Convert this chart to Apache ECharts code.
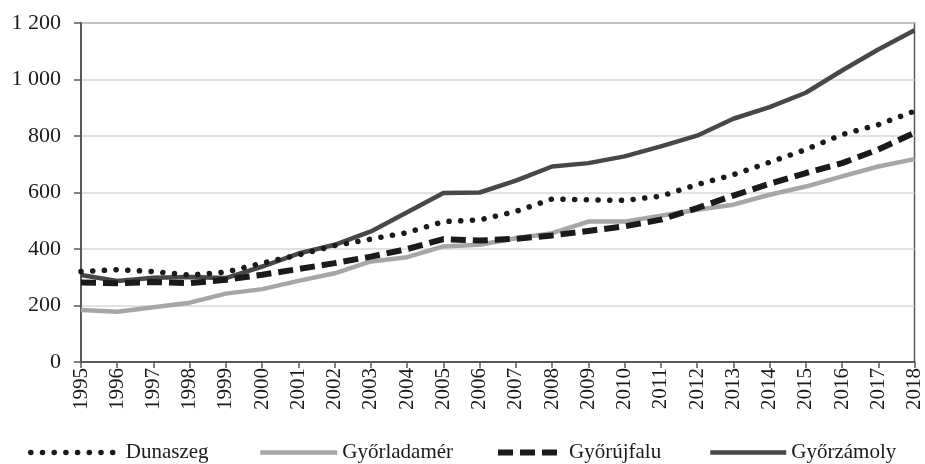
<!DOCTYPE html>
<html>
<head>
<meta charset="utf-8">
<script src="https://cdn.jsdelivr.net/npm/echarts@6/dist/echarts.min.js"></script>
<style>
  html, body { margin: 0; padding: 0; background: #fff; }
  #chart { width: 925px; height: 464px; }
</style>
</head>
<body>
<div id="chart"></div>
<script>
// évek
const years = ["1995","1996","1997","1998","1999","2000","2001","2002","2003","2004","2005","2006",
  "2007","2008","2009","2010","2011","2012","2013","2014","2015","2016","2017","2018"];

// települések adatai
const dunaszeg = [320,327,320,308,318,350,379,412,435,458,497,503,533,577,574,572,587,628,663,707,752,805,840,888];
const gyorladamer = [184,178,194,210,242,258,287,314,356,371,409,415,438,456,497,497,518,539,557,592,621,657,692,718];
const gyorujfalu = [281,279,283,279,291,309,329,350,373,400,435,430,436,448,464,480,504,545,589,631,669,704,752,811];
const gyorzamoly = [308,287,298,301,297,338,384,415,462,530,598,600,642,692,704,728,763,801,861,902,953,1032,1106,1174];

const names = ["Dunaszeg", "Győrladamér", "Győrújfalu", "Győrzámoly"];
const font = "Liberation Serif";

// vonalstílusok (sorozat és jelmagyarázat közös)
const styles = {
  "Dunaszeg": { color: "#1a1a1a", width: 5.5, type: [0.1, 11.6], cap: "round" },
  "Győrladamér": { color: "#a6a6a6", width: 4.5, type: "solid" },
  "Győrújfalu": { color: "#1a1a1a", width: 6, type: [15, 7] },
  "Győrzámoly": { color: "#474747", width: 4.5, type: "solid" }
};

const chart = echarts.init(document.getElementById("chart"));

// egy jelmagyarázat-elem sorozatonként, hogy pontosan lehessen igazítani
const legendLeft = [28, 258, 495, 708];
const legendWidth = [90, 77, 66, 76];
const legends = names.map((n, i) => ({
  data: [n],
  left: legendLeft[i],
  top: 442,
  padding: 0,
  itemWidth: legendWidth[i],
  itemHeight: 20,
  itemGap: 0,
  selectedMode: false,
  itemStyle: { opacity: 0 },
  lineStyle: Object.assign({}, styles[n]),
  textStyle: { fontFamily: font, fontSize: 21, color: "#1a1a1a" }
}));

const option = {
  animation: false,
  grid: {
    left: 81, right: 7, top: 23, bottom: 102,
    show: true, borderColor: "#595959", borderWidth: 1.5
  },
  legend: legends,
  xAxis: {
    type: "category",
    data: years,
    boundaryGap: false,
    axisLine: { lineStyle: { color: "#595959", width: 2 } },
    axisTick: { alignWithLabel: true, length: 6, lineStyle: { color: "#595959", width: 1.5 } },
    axisLabel: { rotate: 90, interval: 0, fontFamily: font, fontSize: 21, color: "#1a1a1a", margin: 6 }
  },
  yAxis: {
    type: "value",
    min: 0, max: 1200, interval: 200,
    axisLine: { show: true, lineStyle: { color: "#595959", width: 2 } },
    axisTick: { show: true, length: 7, lineStyle: { color: "#595959", width: 1.5 } },
    splitLine: { lineStyle: { color: "#d9d9d9", width: 1.5 } },
    axisLabel: {
      fontFamily: font, fontSize: 22, color: "#1a1a1a", margin: 20,
      formatter: v => String(v).replace(/\B(?=(\d{3})+(?!\d))/g, " ")
    }
  },
  series: [
    { name: names[1], type: "line", data: gyorladamer, symbol: "none",
      lineStyle: styles[names[1]], itemStyle: { color: styles[names[1]].color } },
    { name: names[3], type: "line", data: gyorzamoly, symbol: "none",
      lineStyle: styles[names[3]], itemStyle: { color: styles[names[3]].color } },
    { name: names[2], type: "line", data: gyorujfalu, symbol: "none",
      lineStyle: styles[names[2]], itemStyle: { color: styles[names[2]].color } },
    { name: names[0], type: "line", data: dunaszeg, symbol: "none",
      lineStyle: styles[names[0]], itemStyle: { color: styles[names[0]].color } }
  ]
};

chart.setOption(option);
</script>
</body>
</html>
